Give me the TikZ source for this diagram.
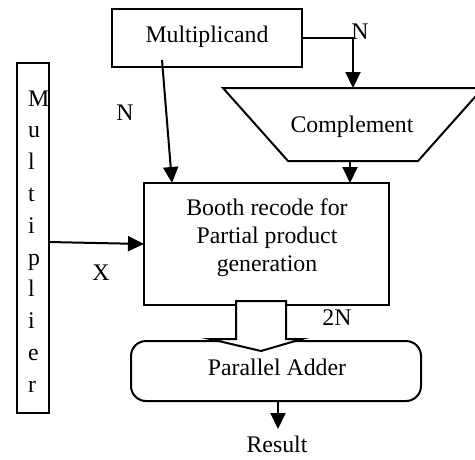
\documentclass[tikz,border=0pt]{standalone}
\usepackage{fontspec}
\setmainfont{Liberation Serif}
\usetikzlibrary{arrows.meta}
\begin{document}
\begin{tikzpicture}[x=1pt,y=-1pt,
  every node/.style={font=\fontsize{23.8}{28}\selectfont, inner sep=0pt},
  box/.style={draw, line width=2pt},
  conn/.style={line width=2pt, -{Triangle[length=16pt,width=15pt]}},
  lbl/.style={anchor=base}]
\useasboundingbox (0,0) rectangle (475,459);
\clip (0,0) rectangle (475,459);

% Multiplicand register
\node[box, minimum width=190pt, minimum height=58pt] (mcand) at (207,38) {};
\node[lbl] (mcandtxt) at (207,42) {Multiplicand};

% Complement unit (inverted trapezoid)
\coordinate (ctl) at (223,88);
\coordinate (ctr) at (483,88);
\coordinate (cbr) at (418,161);
\coordinate (cbl) at (288,161);
\draw[line width=2pt] (ctl) -- (ctr) -- (cbr) -- (cbl) -- cycle;
\node[lbl] (comp) at (352,132) {Complement};
\coordinate (compin) at (353,88);
\coordinate (compout) at (350,161);

% Multiplier register, letters stacked vertically
\node[box, minimum width=32pt, minimum height=350pt] (mplier) at (33,238) {};
\foreach \ch [count=\i] in {M,u,l,t,i,p,l,i,e,r}
  \node[anchor=base west] (ml\i) at (28,{106+31.8*(\i-1)}) {\ch};

% Booth recoder
\node[box, minimum width=245pt, minimum height=122pt] (booth) at (266.5,244) {};
\node[lbl] (b1) at (267,215) {Booth recode for};
\node[lbl] (b2) at (267,243) {Partial product};
\node[lbl] (b3) at (267,271) {generation};

% Parallel adder
\draw[line width=2pt, rounded corners=15pt] (131,341) rectangle (421,401);
\node[lbl] (adder) at (277,375) {Parallel Adder};
\coordinate (addout) at (278,401);

% Connectors
\coordinate (mcr) at (302,38);
\coordinate (mcturn) at (353,38);
\draw[conn] (mcr) -- (mcturn) -- (compin);
\node[lbl] (nTop) at (360,39) {N};

\coordinate (mcbot) at (162,60);
\coordinate (boothin1) at (172,183);
\draw[conn] (mcbot) -- (boothin1);
\node[lbl] (nLeft) at (125,120) {N};

\coordinate (boothin2) at (350,183);
\draw[conn] (compout) -- (boothin2);

\coordinate (mpout) at (49,242);
\coordinate (boothin3) at (144,244);
\draw[conn] (mpout) -- (boothin3);
\node[lbl] (xlbl) at (101,280) {X};

% Wide arrow from recoder to adder
\draw[line width=2pt, fill=white] (236,301) -- (286,301) -- (286,339) -- (302,339)
  -- (261,351) -- (210,339) -- (236,339) -- cycle;
\node[lbl] (twoN) at (337,325) {2N};

\coordinate (res) at (278,429);
\draw[conn] (addout) -- (res);
\node[lbl] (result) at (277,452) {Result};
\end{tikzpicture}
\end{document}
